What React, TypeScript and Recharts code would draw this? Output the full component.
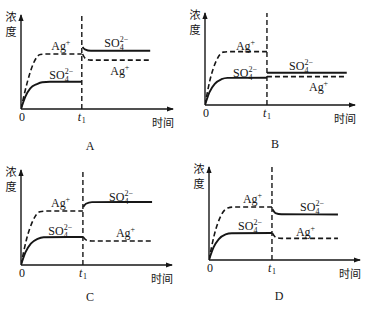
import React from "react";
import {
  Label,
  Line,
  LineChart,
  ReferenceDot,
  ReferenceLine,
  XAxis,
  YAxis,
} from "recharts";

type Pair = [number, number];

const ink = "#161616";
const serif = "'Liberation Serif', 'Times New Roman', serif";
const cjk = "'Noto Sans CJK SC', 'Noto Sans CJK JP', sans-serif";

// [时间, 浓度], axes run 0..10
// A
const t1A = 4.0;
const agBeforeA: Pair[] = [[0, 0], [0.39, 2.7], [0.83, 4.9], [1.27, 5.8], [1.7, 5.85], [4.0, 5.85]];
const so4BeforeA: Pair[] = [[0, 0], [0.28, 1.3], [0.61, 2.2], [1.05, 2.65], [1.4, 2.85], [1.9, 2.9], [4.0, 2.9]];
const so4AfterA: Pair[] = [[4.05, 6.6], [4.2, 6.35], [4.6, 6.2], [8.5, 6.2]];
const agAfterA: Pair[] = [[4.05, 5.85], [4.25, 5.35], [4.6, 5.2], [8.5, 5.2]];

// B
const t1B = 4.13;
const agBeforeB: Pair[] = [[0, 0], [0.33, 2.7], [0.78, 4.9], [1.22, 5.75], [1.6, 5.8], [4.13, 5.8]];
const so4BeforeB: Pair[] = [[0, 0], [0.3, 1.4], [0.65, 2.3], [1.1, 2.8], [1.5, 2.95], [4.13, 2.97]];
const so4AfterB: Pair[] = [[4.13, 3.5], [9.45, 3.5]];
const agAfterB: Pair[] = [[4.13, 3.08], [9.45, 3.08]];

// C
const t1C = 4.1;
const agBeforeC: Pair[] = [[0, 0], [0.35, 2.6], [0.8, 4.7], [1.25, 5.6], [1.7, 5.68], [4.1, 5.68]];
const so4BeforeC: Pair[] = [[0, 0], [0.3, 1.35], [0.65, 2.25], [1.1, 2.75], [1.5, 2.92], [4.1, 2.95]];
const so4AfterC: Pair[] = [[4.12, 6.1], [4.3, 6.45], [4.7, 6.62], [8.68, 6.63]];
const agAfterC: Pair[] = [[4.12, 2.95], [4.35, 2.6], [4.7, 2.53], [8.68, 2.53]];

// D
const t1D = 4.17;
const agBeforeD: Pair[] = [[0, 0], [0.35, 2.7], [0.8, 4.8], [1.25, 5.6], [1.7, 5.7], [4.17, 5.7]];
const so4BeforeD: Pair[] = [[0, 0], [0.3, 1.35], [0.65, 2.25], [1.1, 2.75], [1.5, 2.88], [4.17, 2.9]];
const so4AfterD: Pair[] = [[4.2, 5.45], [4.4, 5.05], [4.8, 4.92], [8.54, 4.9]];
const agAfterD: Pair[] = [[4.2, 2.9], [4.45, 2.4], [4.8, 2.33], [8.54, 2.33]];

const toPts = (arr: Pair[]) => arr.map(([t, c]) => ({ t, c }));

function Ion({ cx, cy, kind }: { cx: number; cy: number; kind: "ag" | "so4" }) {
  if (kind === "ag") {
    const x0 = cx - 10;
    return (
      <g fontFamily={serif} fill={ink}>
        <text x={x0} y={cy + 4} fontSize={12}>Ag</text>
        <text x={x0 + 14.5} y={cy - 1} fontSize={8}>+</text>
      </g>
    );
  }
  const x0 = cx - 12;
  return (
    <g fontFamily={serif} fill={ink}>
      <text x={x0} y={cy + 4} fontSize={12}>SO</text>
      <text x={x0 + 15.5} y={cy + 7} fontSize={8}>4</text>
      <text x={x0 + 15.5} y={cy - 1} fontSize={8}>2−</text>
    </g>
  );
}

interface PanelProps {
  left: number;
  top: number;
  width: number;
  height: number;
  margin: { top: number; right: number; bottom: number; left: number };
  t1: number;
  agBefore: Pair[];
  agAfter: Pair[];
  so4Before: Pair[];
  so4After: Pair[];
  agLbl1: Pair;
  so4Lbl1: Pair;
  so4Lbl2: Pair;
  agLbl2: Pair;
  letter: string;
  letterAt: Pair;
}

function Panel(p: PanelProps) {
  const tick = (props: any) => {
    const { x, y, payload } = props;
    if (payload.value === 0) {
      return (
        <text x={x + 1} y={y + 12} textAnchor="middle" fontFamily={serif} fontSize={12} fill={ink}>
          0
        </text>
      );
    }
    return (
      <g fontFamily={serif} fill={ink}>
        <text x={x - 4} y={y + 12} fontSize={12} fontStyle="italic">t</text>
        <text x={x} y={y + 14} fontSize={8}>1</text>
      </g>
    );
  };

  // axis boxes are 1px so the axis lines get drawn
  const m = { ...p.margin, left: p.margin.left - 1, bottom: p.margin.bottom - 1 };

  return (
    <div style={{ position: "absolute", left: p.left, top: p.top, width: p.width, height: p.height }}>
      <LineChart width={p.width} height={p.height} margin={m}>
        <XAxis
          type="number"
          dataKey="t"
          domain={[0, 10]}
          ticks={[0, p.t1]}
          tick={tick}
          tickLine={false}
          tickSize={0}
          tickMargin={0}
          height={1}
          axisLine={{ stroke: ink, strokeWidth: 1.4 }}
          allowDataOverflow
        >
          <Label
            content={(props: any) => {
              const vb = props.viewBox;
              return (
                <text x={vb.x + vb.width + 1} y={vb.y + 18} textAnchor="end" fontFamily={cjk} fontSize={11} fill={ink}>
                  时间
                </text>
              );
            }}
          />
        </XAxis>
        <YAxis
          type="number"
          dataKey="c"
          domain={[0, 10]}
          tick={false}
          tickLine={false}
          width={1}
          axisLine={{ stroke: ink, strokeWidth: 1.4 }}
          allowDataOverflow
        >
          <Label
            content={(props: any) => {
              const vb = props.viewBox;
              return (
                <g fontFamily={cjk} fontSize={11} fill={ink}>
                  <text x={vb.x + vb.width - 10} y={vb.y + 6} textAnchor="middle">浓</text>
                  <text x={vb.x + vb.width - 10} y={vb.y + 21} textAnchor="middle">度</text>
                </g>
              );
            }}
          />
        </YAxis>
        <ReferenceLine x={p.t1} stroke={ink} strokeWidth={1.4} strokeDasharray="5 3" />
        <ReferenceDot
          x={10}
          y={0}
          ifOverflow="visible"
          shape={(s: any) => <path d={`M${s.cx + 1},${s.cy} l-7,-2.6 l0,5.2 z`} fill={ink} />}
        />
        <ReferenceDot
          x={0}
          y={10}
          ifOverflow="visible"
          shape={(s: any) => <path d={`M${s.cx},${s.cy - 1} l-2.6,7 l5.2,0 z`} fill={ink} />}
        />
        <Line data={toPts(p.agBefore)} dataKey="c" type="monotone" stroke={ink} strokeWidth={1.6} strokeDasharray="5 3" dot={false} isAnimationActive={false} />
        <Line data={toPts(p.agAfter)} dataKey="c" type="monotone" stroke={ink} strokeWidth={1.6} strokeDasharray="5 3" dot={false} isAnimationActive={false} />
        <Line data={toPts(p.so4Before)} dataKey="c" type="monotone" stroke={ink} strokeWidth={1.9} dot={false} isAnimationActive={false} />
        <Line data={toPts(p.so4After)} dataKey="c" type="monotone" stroke={ink} strokeWidth={1.9} dot={false} isAnimationActive={false} />
        <ReferenceDot x={p.agLbl1[0]} y={p.agLbl1[1]} ifOverflow="visible" shape={(s: any) => <Ion cx={s.cx} cy={s.cy} kind="ag" />} />
        <ReferenceDot x={p.so4Lbl1[0]} y={p.so4Lbl1[1]} ifOverflow="visible" shape={(s: any) => <Ion cx={s.cx} cy={s.cy} kind="so4" />} />
        <ReferenceDot x={p.so4Lbl2[0]} y={p.so4Lbl2[1]} ifOverflow="visible" shape={(s: any) => <Ion cx={s.cx} cy={s.cy} kind="so4" />} />
        <ReferenceDot x={p.agLbl2[0]} y={p.agLbl2[1]} ifOverflow="visible" shape={(s: any) => <Ion cx={s.cx} cy={s.cy} kind="ag" />} />
      </LineChart>
      <div
        style={{
          position: "absolute",
          left: p.letterAt[0] - 20,
          top: p.letterAt[1] - 7,
          width: 40,
          height: 14,
          lineHeight: "14px",
          textAlign: "center",
          fontFamily: serif,
          fontSize: 12,
          color: ink,
        }}
      >
        {p.letter}
      </div>
    </div>
  );
}

export default function App() {
  return (
    <div style={{ position: "absolute", left: 0, top: 0, width: 377, height: 321, background: "#fff", overflow: "hidden" }}>
      <Panel
        left={0}
        top={0}
        width={188}
        height={160}
        margin={{ top: 15, right: 15, bottom: 51, left: 21 }}
        t1={t1A}
        agBefore={agBeforeA}
        agAfter={agAfterA}
        so4Before={so4BeforeA}
        so4After={so4AfterA}
        agLbl1={[2.65, 6.7]}
        so4Lbl1={[2.65, 3.6]}
        so4Lbl2={[6.27, 7.0]}
        agLbl2={[6.53, 4.04]}
        letter="A"
        letterAt={[90, 146]}
      />
      <Panel
        left={189}
        top={0}
        width={188}
        height={160}
        margin={{ top: 13, right: 22, bottom: 55, left: 16 }}
        t1={t1B}
        agBefore={agBeforeB}
        agAfter={agAfterB}
        so4Before={so4BeforeB}
        so4After={so4AfterB}
        agLbl1={[2.73, 6.4]}
        so4Lbl1={[2.67, 3.48]}
        so4Lbl2={[6.4, 4.24]}
        agLbl2={[7.6, 1.96]}
        letter="B"
        letterAt={[86, 144]}
      />
      <Panel
        left={0}
        top={160}
        width={188}
        height={161}
        margin={{ top: 10, right: 16, bottom: 56, left: 21 }}
        t1={t1C}
        agBefore={agBeforeC}
        agAfter={agAfterC}
        so4Before={so4BeforeC}
        so4After={so4AfterC}
        agLbl1={[2.65, 6.52]}
        so4Lbl1={[2.6, 3.58]}
        so4Lbl2={[6.62, 7.16]}
        agLbl2={[6.95, 3.37]}
        letter="C"
        letterAt={[90, 137]}
      />
      <Panel
        left={189}
        top={160}
        width={188}
        height={161}
        margin={{ top: 7, right: 17, bottom: 61, left: 20 }}
        t1={t1D}
        agBefore={agBeforeD}
        agAfter={agAfterD}
        so4Before={so4BeforeD}
        so4After={so4AfterD}
        agLbl1={[2.91, 6.56]}
        so4Lbl1={[2.72, 3.66]}
        so4Lbl2={[6.82, 5.7]}
        agLbl2={[6.42, 3.01]}
        letter="D"
        letterAt={[90, 136]}
      />
    </div>
  );
}
